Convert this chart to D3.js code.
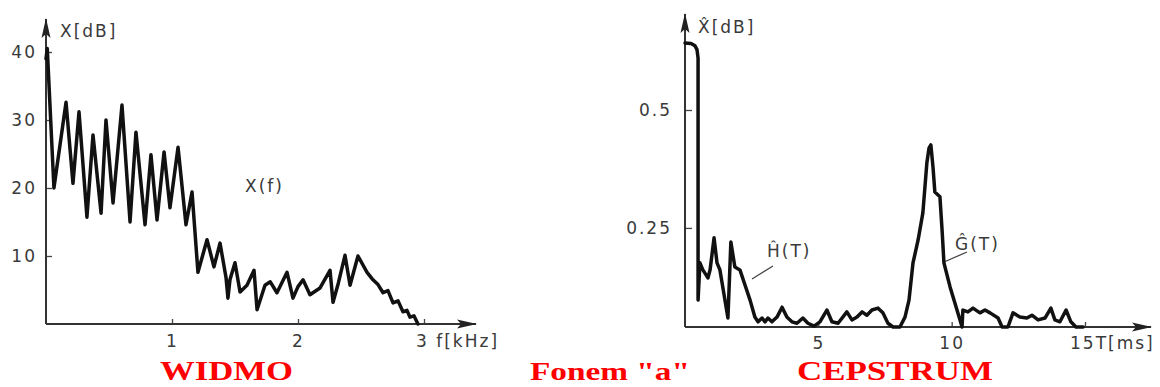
<!DOCTYPE html>
<html>
<head>
<meta charset="utf-8">
<script src="https://cdn.jsdelivr.net/npm/d3@7"></script>
<style>
  body { margin: 0; background: #fff; }
  svg { display: block; }
  .lbl { font-family: "DejaVu Sans", sans-serif; font-size: 17px; fill: #3a3a3a; letter-spacing: 2px; }
  .title { font-family: "Liberation Serif", "Times New Roman", serif; font-weight: bold; fill: #ff0000; }
</style>
</head>
<body>
<svg id="chart" width="1160" height="387"></svg>
<script>
// ---- Spectrum of the phoneme "a" (WIDMO) ----
const freqKHz = [0.00, 0.01, 0.063, 0.159, 0.214, 0.262, 0.325, 0.373, 0.437, 0.476, 0.532, 0.603,
  0.667, 0.714, 0.786, 0.833, 0.881, 0.937, 0.984, 1.048, 1.111, 1.159, 1.206, 1.278, 1.333, 1.381,
  1.429, 1.444, 1.46, 1.50, 1.54, 1.595, 1.651, 1.675, 1.738, 1.78, 1.833, 1.913, 1.96, 2.00, 2.04,
  2.095, 2.175, 2.254, 2.278, 2.32, 2.373, 2.413, 2.476, 2.548, 2.595, 2.635, 2.675, 2.714, 2.754,
  2.794, 2.833, 2.865, 2.889, 2.92, 2.952];
const levelDb = [39.0, 40.5, 20.0, 32.6, 20.7, 31.2, 15.7, 27.8, 16.3, 30.0, 17.8, 32.2,
  15.0, 28.2, 14.6, 24.9, 15.3, 25.3, 17.1, 26.0, 14.6, 19.4, 7.6, 12.4, 8.4, 11.9,
  6.8, 3.8, 6.5, 9.0, 4.7, 5.7, 7.9, 2.1, 5.7, 6.2, 4.6, 7.6, 3.8, 5.5, 6.5,
  4.3, 5.3, 7.9, 3.2, 6.0, 10.1, 5.7, 10.0, 7.6, 6.5, 5.8, 4.6, 4.9, 3.1,
  3.4, 1.8, 2.0, 1.0, 1.2, 0.0];
const spectrumTicksX = [1, 2, 3];
const spectrumTicksY = [10, 20, 30, 40];

// ---- Cepstrum (CEPSTRUM) ----
const quefMs = [0, 0.225, 0.375, 0.45, 0.49, 0.49, 0.56, 0.67, 0.86, 0.94, 1.09, 1.20, 1.31, 1.61,
  1.72, 1.87, 2.06, 2.25, 2.44, 2.62, 2.74, 2.89, 3.00, 3.11, 3.26, 3.45, 3.64, 3.82, 4.01, 4.20,
  4.42, 4.61, 4.84, 5.06, 5.32, 5.51, 5.74, 6.07, 6.26, 6.45, 6.64, 6.82, 7.01, 7.24, 7.42, 7.61,
  7.80, 8.06, 8.25, 8.40, 8.55, 8.74, 8.92, 9.07, 9.15, 9.22, 9.30, 9.37, 9.56, 9.64, 9.71, 9.94,
  10.20, 10.39, 10.42, 10.61, 10.80, 11.06, 11.25, 11.44, 11.74, 11.89, 12.11, 12.30, 12.56, 12.82,
  13.01, 13.24, 13.50, 13.72, 13.87, 14.06, 14.29, 14.47, 14.66, 14.93];
const cepVal = [0.642, 0.641, 0.636, 0.628, 0.610, 0.097, 0.176, 0.161, 0.144, 0.161, 0.229, 0.176,
  0.161, 0.059, 0.220, 0.167, 0.161, 0.129, 0.097, 0.061, 0.051, 0.059, 0.051, 0.059, 0.051, 0.061,
  0.082, 0.061, 0.051, 0.048, 0.059, 0.048, 0.042, 0.051, 0.076, 0.051, 0.048, 0.072, 0.055, 0.061,
  0.072, 0.065, 0.076, 0.080, 0.070, 0.048, 0.040, 0.040, 0.061, 0.097, 0.176, 0.224, 0.282, 0.388,
  0.419, 0.426, 0.379, 0.326, 0.316, 0.246, 0.176, 0.125, 0.076, 0.040, 0.076, 0.072, 0.080, 0.070,
  0.076, 0.070, 0.059, 0.040, 0.040, 0.070, 0.061, 0.059, 0.065, 0.055, 0.059, 0.080, 0.055, 0.051,
  0.076, 0.051, 0.040, 0.040];
const cepTicksX = [5, 10, 15];
const cepTicksY = [0.25, 0.5];

const svg = d3.select("#chart");

// arrowhead for the axes
svg.append("defs").append("marker")
  .attr("id", "arrow")
  .attr("markerUnits", "userSpaceOnUse")
  .attr("viewBox", "0 -5 20 10")
  .attr("refX", 19).attr("refY", 0)
  .attr("markerWidth", 20).attr("markerHeight", 10)
  .attr("orient", "auto")
  .append("path").attr("d", "M0,-4.5L20,0L0,4.5L4,0Z").attr("fill", "#222");

function styleAxis(g) {
  g.select(".domain").remove();
  g.selectAll(".tick line").attr("stroke", "#444").attr("stroke-width", 1.3);
  g.selectAll(".tick text").attr("class", "lbl").attr("font-family", null).attr("font-size", null);
}

// ================= Left panel: spectrum =================
const xL = d3.scaleLinear().domain([0, 3]).range([46, 424]);
const yL = d3.scaleLinear().domain([0, 40]).range([324, 52]);
const left = svg.append("g");

left.append("g")
  .attr("transform", `translate(0,${yL(0)})`)
  .call(d3.axisBottom(xL).tickValues(spectrumTicksX)
    .tickFormat(d => d === 3 ? "" : String(d))
    .tickSizeInner(-5).tickSizeOuter(0).tickPadding(11))
  .call(styleAxis);

left.append("g")
  .attr("transform", `translate(${xL(0)},0)`)
  .call(d3.axisLeft(yL).tickValues(spectrumTicksY)
    .tickSizeInner(-6).tickSizeOuter(0).tickPadding(9))
  .call(styleAxis);

left.append("line")
  .attr("x1", xL(0)).attr("y1", yL(0)).attr("x2", 476).attr("y2", yL(0))
  .attr("stroke", "#333").attr("stroke-width", 2).attr("marker-end", "url(#arrow)");
left.append("line")
  .attr("x1", xL(0)).attr("y1", yL(0)).attr("x2", xL(0)).attr("y2", 19)
  .attr("stroke", "#333").attr("stroke-width", 2).attr("marker-end", "url(#arrow)");

left.append("text").attr("class", "lbl").attr("x", 60).attr("y", 37).text("X[dB]");
left.append("text").attr("class", "lbl").attr("x", xL(3) - 8).attr("y", 347).text("3 f[kHz]");
left.append("text").attr("class", "lbl").attr("x", 245).attr("y", 192).text("X(f)");

const specLine = d3.line()
  .x((d, i) => xL(freqKHz[i]))
  .y(d => yL(d));
left.append("path")
  .datum(levelDb)
  .attr("d", specLine)
  .attr("fill", "none").attr("stroke", "#111")
  .attr("stroke-width", 3.5).attr("stroke-linejoin", "round").attr("stroke-linecap", "round");

// ================= Right panel: cepstrum =================
const xR = d3.scaleLinear().domain([0, 15]).range([685, 1085]);
const yR = d3.scaleLinear().domain([0.04, 0.5]).range([327, 110]);
const right = svg.append("g");

right.append("g")
  .attr("transform", `translate(0,${yR(0.04)})`)
  .call(d3.axisBottom(xR).tickValues(cepTicksX)
    .tickFormat(d => d === 15 ? "" : String(d))
    .tickSizeInner(-5).tickSizeOuter(0).tickPadding(10))
  .call(styleAxis);

right.append("g")
  .attr("transform", `translate(${xR(0)},0)`)
  .call(d3.axisLeft(yR).tickValues(cepTicksY)
    .tickFormat(d => String(d))
    .tickSizeInner(-7).tickSizeOuter(0).tickPadding(13))
  .call(styleAxis);

right.append("line")
  .attr("x1", xR(0)).attr("y1", yR(0.04)).attr("x2", 1151).attr("y2", yR(0.04))
  .attr("stroke", "#333").attr("stroke-width", 2).attr("marker-end", "url(#arrow)");
right.append("line")
  .attr("x1", xR(0)).attr("y1", yR(0.04)).attr("x2", xR(0)).attr("y2", 14)
  .attr("stroke", "#333").attr("stroke-width", 2).attr("marker-end", "url(#arrow)");

right.append("text").attr("class", "lbl").attr("x", 698).attr("y", 33).text("X\u0302[dB]");
right.append("text").attr("class", "lbl").attr("x", xR(15) - 15).attr("y", 349).text("15T[ms]");

// component labels with leader lines
right.append("text").attr("class", "lbl").attr("x", 767).attr("y", 257).text("\u0124(T)");
right.append("line").attr("x1", 773).attr("y1", 266).attr("x2", 752).attr("y2", 279)
  .attr("stroke", "#444").attr("stroke-width", 1.3);
right.append("text").attr("class", "lbl").attr("x", 955).attr("y", 250).text("\u011C(T)");
right.append("line").attr("x1", 967).attr("y1", 252).attr("x2", 944).attr("y2", 262)
  .attr("stroke", "#444").attr("stroke-width", 1.3);

const cepLine = d3.line()
  .x((d, i) => xR(quefMs[i]))
  .y(d => yR(d));
right.append("path")
  .datum(cepVal)
  .attr("d", cepLine)
  .attr("fill", "none").attr("stroke", "#111")
  .attr("stroke-width", 3.5).attr("stroke-linejoin", "round").attr("stroke-linecap", "round");

// ================= Captions =================
const captions = [
  { text: "WIDMO", x: 160, len: 133, size: 28 },
  { text: "Fonem \"a\"", x: 530, len: 160, size: 26 },
  { text: "CEPSTRUM", x: 797, len: 196, size: 28 }
];
svg.selectAll("text.title").data(captions).enter().append("text")
  .attr("class", "title")
  .attr("x", d => d.x).attr("y", 380)
  .attr("font-size", d => d.size)
  .attr("textLength", d => d.len)
  .attr("lengthAdjust", "spacingAndGlyphs")
  .text(d => d.text);
</script>
</body>
</html>
